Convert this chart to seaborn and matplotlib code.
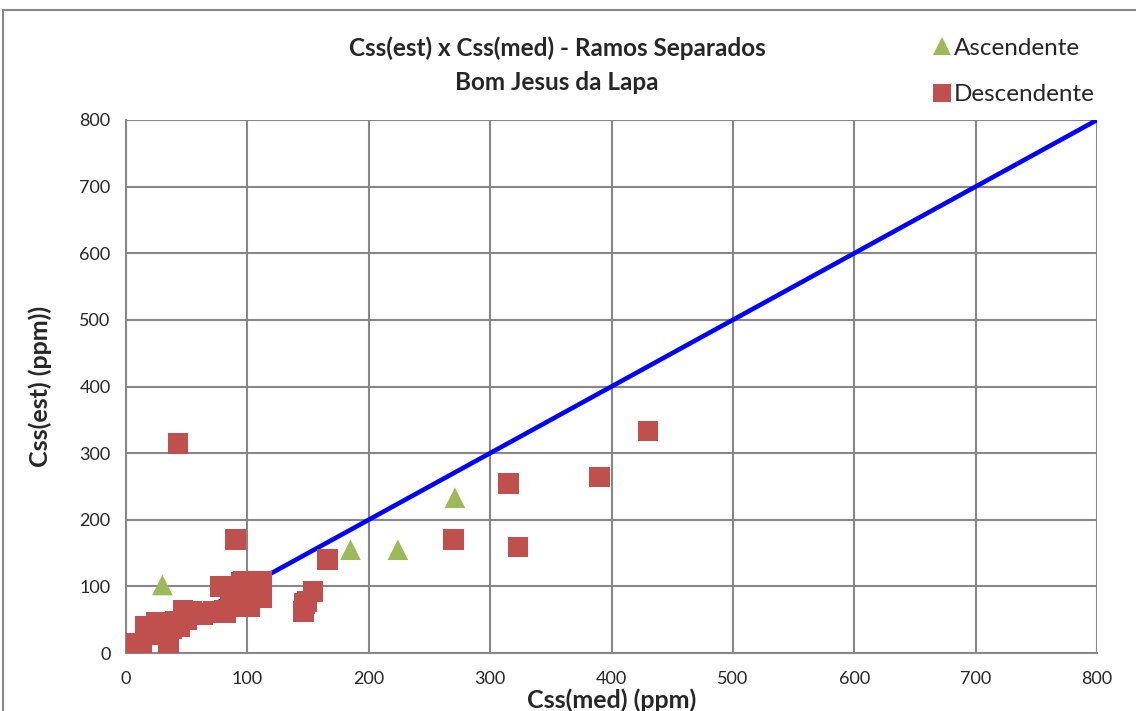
import matplotlib
matplotlib.use("Agg")
import matplotlib.pyplot as plt
import seaborn as sns
import pandas as pd
from matplotlib.patches import Rectangle

# Measured vs estimated suspended-sediment concentration (ppm)
asc_med = [30, 185, 224, 271]
asc_est = [102, 155, 155, 233]

desc_med = [6, 13, 16, 20, 25, 30, 28, 35, 38, 41, 44, 47, 50, 54, 58, 63, 67,
            72, 78, 81, 82, 86, 90, 95, 96, 97, 102, 105, 110, 112, 112,
            146, 147, 149, 154, 166, 43, 90, 270, 315, 323, 390, 430]
desc_est = [14, 12, 40, 28, 46, 46, 35, 12, 36, 48, 40, 64, 50, 62, 58, 58, 60,
            62, 100, 64, 60, 75, 84, 106, 69, 108, 69, 90, 95, 107, 83,
            62, 74, 77, 92, 140, 314, 170, 170, 254, 159, 264, 333]

line_x = [0, 800]
line_y = [0, 800]
ticks = [0, 100, 200, 300, 400, 500, 600, 700, 800]

df = pd.DataFrame({
    "med": asc_med + desc_med,
    "est": asc_est + desc_est,
    "ramo": ["Ascendente"] * len(asc_med) + ["Descendente"] * len(desc_med),
})

sns.set_style("white")
plt.rcParams["font.family"] = ["Lato", "DejaVu Sans"]

fig = plt.figure(figsize=(11.36, 7.11), dpi=100)
ax = fig.add_axes([126 / 1136, 1 - 653 / 711, (1097 - 126) / 1136, (653 - 120) / 711])

# outer chart frame
fig.patches.append(Rectangle((3 / 1136, -0.2), 1.2, 1 - 10 / 711 + 0.2,
                             transform=fig.transFigure, fill=False,
                             edgecolor="#878787", linewidth=1.5, zorder=0))

sns.lineplot(x=line_x, y=line_y, ax=ax, color="#0000FF", linewidth=3.3, zorder=2)
sns.scatterplot(data=df, x="med", y="est", hue="ramo", style="ramo",
                hue_order=["Ascendente", "Descendente"],
                palette={"Ascendente": "#9BBB59", "Descendente": "#C0504D"},
                markers={"Ascendente": "^", "Descendente": "s"},
                s=220, linewidth=0, ax=ax, zorder=3, legend=True)

ax.set_xlim(0, 800)
ax.set_ylim(0, 800)
ax.set_xticks(ticks)
ax.set_yticks(ticks)
ax.grid(True, color="#878787", linewidth=1.5)
ax.set_axisbelow(True)
for side in ["top", "right"]:
    ax.spines[side].set_visible(False)
for side in ["left", "bottom"]:
    ax.spines[side].set_color("#878787")
    ax.spines[side].set_linewidth(1.5)
ax.tick_params(axis="both", direction="out", length=5, width=1.5,
               color="#878787", labelsize=13, pad=6)
ax.tick_params(axis="x", pad=8)

ax.set_xlabel("Css(med) (ppm)", fontsize=18, fontweight="bold", labelpad=1)
ax.set_ylabel("Css(est) (ppm))", fontsize=18, fontweight="bold", labelpad=20)

fig.text(557 / 1136, 1 - 48 / 711, "Css(est) x Css(med) - Ramos Separados",
         ha="center", va="center", fontsize=17.5, fontweight="bold")
fig.text(557 / 1136, 1 - 83 / 711, "Bom Jesus da Lapa",
         ha="center", va="center", fontsize=17.5, fontweight="bold")

handles, labels = ax.get_legend_handles_labels()
ax.get_legend().remove()
leg = fig.legend(handles, labels, loc="upper left",
                 bbox_to_anchor=(920 / 1136, 1 - 28 / 711), frameon=False,
                 fontsize=17.5, labelspacing=1.05, handletextpad=0.0,
                 handlelength=1.0, borderaxespad=0)
for h in leg.legend_handles:
    h.set_markersize(13)

fig.savefig("out.png", dpi=100)
